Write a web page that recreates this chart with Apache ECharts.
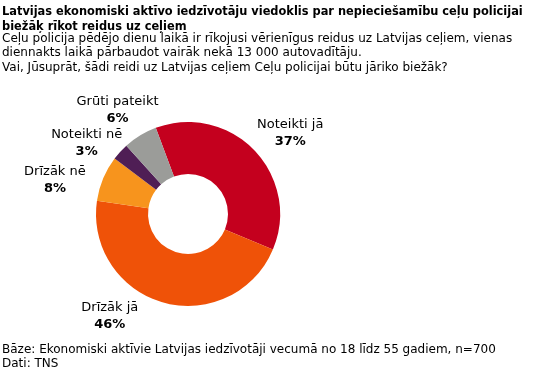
<!DOCTYPE html>
<html><head><meta charset="utf-8">
<script src="https://cdn.jsdelivr.net/npm/echarts@6/dist/echarts.min.js"></script>
<style>html,body{margin:0;padding:0;background:#fff}#c{width:541px;height:374px}</style>
</head><body><div id="c"></div>
<script>
const titleLines = ["Latvijas ekonomiski aktīvo iedzīvotāju viedoklis par nepieciešamību ceļu policijai", "biežāķ rīkot reidus uz ceļiem"];
const subtitleLines = ["Ceļu policija pēdējo dienu laikā ir rīkojusi vērienīgus reidus uz Latvijas ceļiem, vienas", "diennakts laikā pārbaudot vairāk nekā 13 000 autovadītāju.", "Vai, Jūsuprāt, šādi reidi uz Latvijas ceļiem Ceļu policijai būtu jāriko biežāk?"];
const footLines = ["Bāze: Ekonomiski aktīvie Latvijas iedzīvotāji vecumā no 18 līdz 55 gadiem, n=700", "Dati: TNS"];
const categories = ["Noteikti jā", "Drīzāk jā", "Drīzāk nē", "Noteikti nē", "Grūti pateikt"];
const values = [37, 46, 8, 3, 6];

// styling (not data)
const colors = ["#C4001E", "#EF5208", "#F7941D", "#4F1E55", "#9B9C99"];
const labelNudges = [[10, 8], [-44, -21], [-15, 16], [-7, 16], [-4, 5]];

const FONT = "DejaVu Sans";
const chart = echarts.init(document.getElementById('c'), null, {renderer: 'canvas'});
chart.setOption({
  animation: false,
  title: [
    {left: 2, top: 4.5, padding: 0, text: titleLines.join("\n"),
     textStyle: {fontFamily: FONT, fontSize: 11.4, fontWeight: 'bold', color: '#000', lineHeight: 15}},
    {left: 2, top: 31.5, padding: 0, text: subtitleLines.join("\n"),
     textStyle: {fontFamily: FONT, fontSize: 12, fontWeight: 'normal', color: '#000', lineHeight: 14.4}},
    {left: 2, top: 342.5, padding: 0, text: footLines.join("\n"),
     textStyle: {fontFamily: FONT, fontSize: 12, fontWeight: 'normal', color: '#000', lineHeight: 14.2}}
  ],
  series: [
    {type: 'pie', center: [188, 214], radius: [40, 92], startAngle: 110.5, clockwise: true,
     silent: true, label: {show: false}, labelLine: {show: false},
     data: categories.map((n, i) => ({name: n, value: values[i], itemStyle: {color: colors[i]}}))},
    {type: 'pie', center: [188, 214], radius: [0, 250], startAngle: 110.5, clockwise: true,
     silent: true, z: 1, avoidLabelOverlap: false, labelLayout: {hideOverlap: false},
     itemStyle: {color: 'rgba(0,0,0,0)'},
     data: categories.map((n, i) => ({name: n, value: values[i],
       itemStyle: {color: 'rgba(0,0,0,0)'}, label: {offset: labelNudges[i]}})),
     labelLine: {show: false},
     label: {show: true, position: 'inside', formatter: '{n|{b}}\n{p|{c}%}',
       rich: {n: {fontFamily: FONT, fontSize: 13, color: '#000', lineHeight: 17, align: 'center'},
              p: {fontFamily: FONT, fontSize: 13, fontWeight: 'bold', color: '#000', lineHeight: 17, align: 'center'}}}}
  ]
});
</script></body></html>
